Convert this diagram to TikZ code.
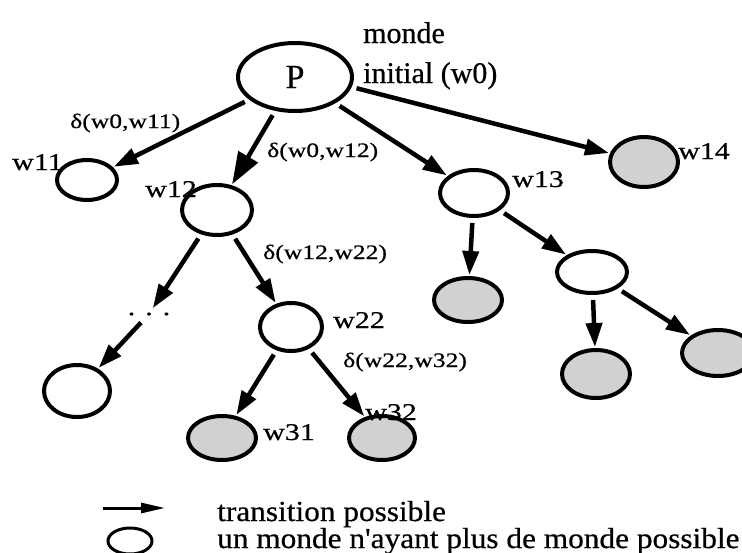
\documentclass[tikz,border=0pt]{standalone}
\usepackage{fontspec}
\setmainfont[FakeBold=0.6]{Liberation Serif}
\newfontfamily\lblfont[FakeStretch=1.25,FakeBold=0.6]{Liberation Serif}
\newfontfamily\legfont[FakeStretch=1.08,FakeBold=0.6]{Liberation Serif}
\usetikzlibrary{shapes.geometric,arrows.meta}

\begin{document}
\begin{tikzpicture}[x=1pt,y=-1pt,
    world/.style={draw,ellipse,line width=4pt,inner sep=0pt},
    dead/.style={world,fill=black!18},
    trans/.style={line width=4.5pt,-{Triangle[length=24pt,width=16pt]},shorten <=5pt,shorten >=1pt},
    wlbl/.style={anchor=base west,font=\lblfont\fontsize{24}{26}\selectfont,inner sep=0pt},
    dlbl/.style={anchor=base west,font=\lblfont\fontsize{20.5}{22}\selectfont,inner sep=0pt}]
    \useasboundingbox (0,0) rectangle (742,552);
    % worlds
    \node[world,minimum width=114pt,minimum height=68pt,font=\fontsize{34}{36}\selectfont] (p) at (295,77) {P};
    \node[world,minimum width=60pt,minimum height=40pt] (w11) at (87,180) {};
    \node[world,minimum width=70pt,minimum height=50pt] (w12) at (217,210) {};
    \node[world,minimum width=68pt,minimum height=46pt] (w13) at (474,193) {};
    \node[dead,minimum width=68pt,minimum height=50pt] (w14) at (644,162) {};
    \node[font=\lblfont\fontsize{24}{26}\selectfont] (dots) at (149,314) {. . .};
    \node[world,minimum width=66pt,minimum height=52pt] (wl) at (77,391) {};
    \node[world,minimum width=62pt,minimum height=48pt] (w22) at (291,327) {};
    \node[dead,minimum width=68pt,minimum height=44pt] (w31) at (222,438) {};
    \node[dead,minimum width=66pt,minimum height=44pt] (w32) at (382,438) {};
    \node[dead,minimum width=68pt,minimum height=44pt] (w13a) at (468,300) {};
    \node[world,minimum width=70pt,minimum height=42pt] (w13b) at (592,272) {};
    \node[dead,minimum width=68pt,minimum height=48pt] (w13c) at (596,374) {};
    \node[dead,minimum width=72pt,minimum height=46pt] (w13d) at (718,353) {};
    % labels
    \node[anchor=base west,inner sep=0pt,font=\fontsize{30}{32}\selectfont] (mw) at (363,43) {monde};
    \node[anchor=base west,inner sep=0pt,font=\fontsize{30}{32}\selectfont] (iw) at (363,83) {initial (w0)};
    \node[wlbl] (l11) at (12,170) {w11};
    \node[wlbl] (l12) at (145,197) {w12};
    \node[wlbl] (l13) at (512,187) {w13};
    \node[wlbl] (l14) at (678,159) {w14};
    \node[wlbl] (l22) at (333,328) {w22};
    \node[wlbl] (l31) at (263,440) {w31};
    \node[wlbl] (l32) at (365,420) {w32};
    \node[dlbl] (d11) at (70,128) {δ(w0,w11)};
    \node[dlbl] (d12) at (267,157) {δ(w0,w12)};
    \node[dlbl] (d22) at (263,259) {δ(w12,w22)};
    \node[dlbl] (d32) at (343,367) {δ(w22,w32)};
    % transitions
    \draw[trans] (p) -- (w11);
    \draw[trans,-{Triangle[length=32pt,width=22pt]}] (p) -- (w12);
    \draw[trans] (p) -- (w13);
    \draw[trans] (p.-10) -- (w14);
    \draw[trans] (w12) -- (dots);
    \draw[trans] (dots) -- (wl);
    \draw[trans] (w12) -- (w22);
    \draw[trans] (w22) -- (w31);
    \draw[trans] (w22) -- (w32);
    \draw[trans] (w13) -- (w13a);
    \draw[trans] (w13) -- (w13b);
    \draw[trans] (w13b) -- (w13c);
    \draw[trans] (w13b) -- (w13d);
    % legend
    \coordinate (la) at (103,508);
    \coordinate (lb) at (165,508);
    \draw[line width=3pt,-{Triangle[length=24pt,width=10pt]}] (la) -- (lb);
    \node[world,line width=3pt,minimum width=44pt,minimum height=26pt] (lw) at (130,541) {};
    \node[anchor=base west,inner sep=0pt,font=\legfont\fontsize{29}{31}\selectfont] (lt) at (217,521) {transition possible};
    \node[anchor=base west,inner sep=0pt,font=\legfont\fontsize{29}{31}\selectfont] (lm) at (217,548) {un monde n'ayant plus de monde possible};
\end{tikzpicture}
\end{document}
